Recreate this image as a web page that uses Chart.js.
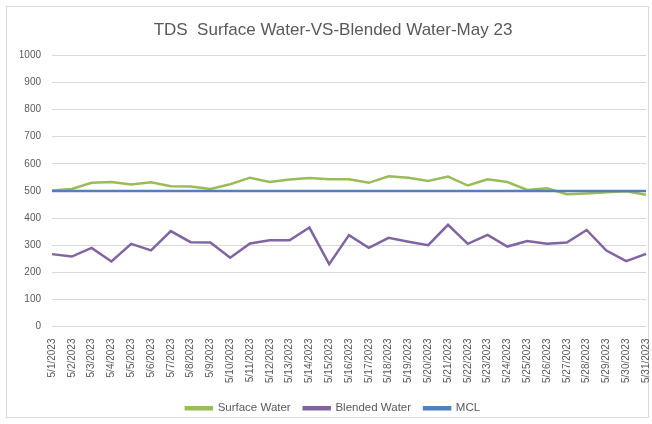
<!DOCTYPE html>
<html>
<head>
<meta charset="utf-8">
<script src="https://cdn.jsdelivr.net/npm/chart.js@4"></script>
<style>
  html, body { margin: 0; padding: 0; background: #fff; }
  #frame { position: absolute; left: 6px; top: 6px; width: 641px; height: 410px; border: 1px solid #d9d9d9; }
  #wrap { position: absolute; left: 0; top: 0; width: 652px; height: 424px; }
</style>
</head>
<body>
<div id="frame"></div>
<div id="wrap"><canvas id="myChart"></canvas></div>
<script>
// Fechas (eje X)
var fechas = ['5/1/2023', '5/2/2023', '5/3/2023', '5/4/2023', '5/5/2023', '5/6/2023', '5/7/2023', '5/8/2023',
  '5/9/2023', '5/10/2023', '5/11/2023', '5/12/2023', '5/13/2023', '5/14/2023', '5/15/2023', '5/16/2023',
  '5/17/2023', '5/18/2023', '5/19/2023', '5/20/2023', '5/21/2023', '5/22/2023', '5/23/2023', '5/24/2023',
  '5/25/2023', '5/26/2023', '5/27/2023', '5/28/2023', '5/29/2023', '5/30/2023', '5/31/2023'];

// Valores TDS
var surfaceWater = [502, 507, 530, 533, 524, 532, 517, 516, 507, 525, 549, 533, 542, 548, 543, 543,
  530, 554, 549, 537, 553, 520, 543, 533, 504, 510, 488, 491, 495, 499, 486];
var blendedWater = [267, 258, 290, 240, 305, 281, 352, 311, 310, 254, 306, 318, 318, 365, 230, 337,
  290, 327, 313, 300, 375, 305, 338, 295, 315, 305, 310, 356, 280, 241, 268];
var mcl = [500, 500, 500, 500, 500, 500, 500, 500, 500, 500, 500, 500, 500, 500, 500, 500,
  500, 500, 500, 500, 500, 500, 500, 500, 500, 500, 500, 500, 500, 500, 500];

// Ticks eje Y
var yTicks = [0, 100, 200, 300, 400, 500, 600, 700, 800, 900, 1000];

var fuente = "'Liberation Sans', Arial, sans-serif";
var gris = '#595959';

var ctx = document.getElementById('myChart').getContext('2d');
var myChart = new Chart(ctx, {
  type: 'line',
  data: {
    labels: fechas,
    datasets: [{
      label: 'Surface Water',
      data: surfaceWater,
      borderColor: '#9bbb59',
      backgroundColor: '#9bbb59',
      borderWidth: 2.5,
      pointRadius: 0,
      order: 3
    }, {
      label: 'Blended Water',
      data: blendedWater,
      borderColor: '#8064a2',
      backgroundColor: '#8064a2',
      borderWidth: 2.5,
      pointRadius: 0,
      order: 2
    }, {
      label: 'MCL',
      data: mcl,
      borderColor: '#4f81bd',
      backgroundColor: '#4f81bd',
      borderWidth: 2.5,
      pointRadius: 0,
      order: 1
    }]
  },
  options: {
    responsive: true,
    maintainAspectRatio: false,
    animation: false,
    layout: { padding: { left: 20, right: 6, top: 0, bottom: 0 } },
    plugins: {
      title: {
        display: true,
        text: 'TDS  Surface Water-VS-Blended Water-May 23',
        color: gris,
        font: { family: fuente, size: 17, weight: 'normal' },
        padding: { top: 20, bottom: 15 }
      },
      legend: {
        display: true,
        position: 'bottom',
        labels: {
          color: gris,
          boxWidth: 26,
          boxHeight: 2,
          padding: 13,
          font: { family: fuente, size: 11.5 },
          sort: function (a, b) { return a.datasetIndex - b.datasetIndex; }
        }
      },
      tooltip: { enabled: false }
    },
    scales: {
      x: {
        grid: { display: false },
        border: { display: false },
        afterFit: function (scale) {
          scale.paddingRight = 0;
          scale.height += 2.5;
        },
        ticks: {
          color: gris,
          minRotation: 90,
          maxRotation: 90,
          autoSkip: false,
          padding: 4,
          font: { family: fuente, size: 10 }
        }
      },
      y: {
        min: 0,
        max: 1000,
        afterFit: function (scale) { scale.width = 32; },
        afterBuildTicks: function (scale) {
          scale.ticks = yTicks.map(function (v) { return { value: v }; });
        },
        grid: { color: '#d9d9d9', drawTicks: false },
        border: { display: false },
        ticks: {
          color: gris,
          padding: 11,
          font: { family: fuente, size: 10 },
          callback: function (v) { return String(v); }
        }
      }
    }
  }
});
</script>
</body>
</html>
